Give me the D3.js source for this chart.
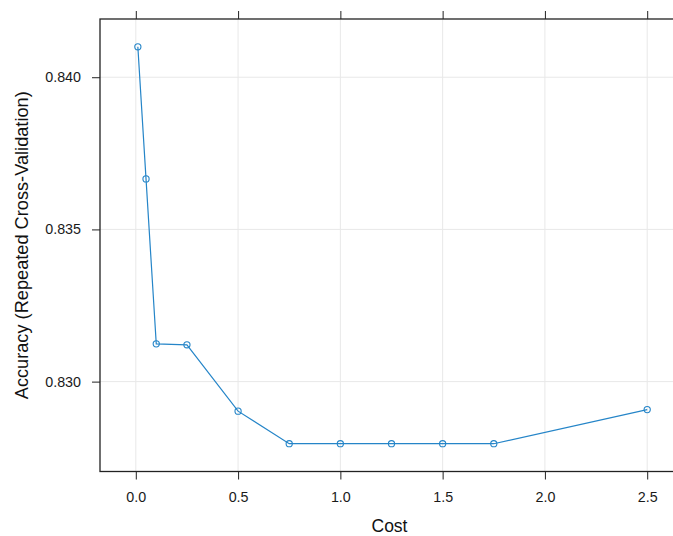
<!DOCTYPE html>
<html>
<head>
<meta charset="utf-8">
<script src="https://cdn.jsdelivr.net/npm/d3@7"></script>
<style>
  body { margin: 0; background: #fff; }
  text { font-family: "Liberation Sans", Arial, sans-serif; }
</style>
</head>
<body>
<div id="chart"></div>
<script>
// Accuracy theo Cost (caret / lattice style)

// --- Dữ liệu ---
const cost = [0.01, 0.05, 0.1, 0.25, 0.5, 0.75, 1, 1.25, 1.5, 1.75, 2.5];
const accuracy = [0.8410, 0.83666, 0.83124, 0.83121, 0.82903, 0.82796,
                  0.82796, 0.82796, 0.82796, 0.82796, 0.82908];
const xTicks = [0, 0.5, 1, 1.5, 2, 2.5];
const yTicks = [0.830, 0.835, 0.840];

const data = cost.map((c, i) => ({ cost: c, acc: accuracy[i] }));

// --- Kích thước ---
const W = 673, H = 536;
const panel = { left: 100, top: 19, right: 683, bottom: 471.5 };
const lineColor = "#2585c8";

const svg = d3.select("#chart")
  .append("svg")
    .attr("width", W)
    .attr("height", H);

// --- Scale (padding ~7% như lattice) ---
const x = d3.scaleLinear()
  .domain([-0.175, 2.675])
  .range([panel.left, panel.right]);

const yExt = d3.extent(accuracy);
const yPad = (yExt[1] - yExt[0]) * 0.07;
const y = d3.scaleLinear()
  .domain([yExt[0] - yPad, yExt[1] + yPad])
  .range([panel.bottom, panel.top]);

// --- Lưới ---
svg.append("g")
  .selectAll("line")
  .data(xTicks)
  .join("line")
    .attr("x1", d => x(d)).attr("x2", d => x(d))
    .attr("y1", panel.top).attr("y2", panel.bottom)
    .attr("stroke", "#e8e8e8").attr("stroke-width", 1);

svg.append("g")
  .selectAll("line")
  .data(yTicks)
  .join("line")
    .attr("x1", panel.left).attr("x2", panel.right)
    .attr("y1", d => y(d)).attr("y2", d => y(d))
    .attr("stroke", "#e8e8e8").attr("stroke-width", 1);

// --- Trục ---
const bottomAxis = svg.append("g")
  .attr("transform", `translate(0,${panel.bottom})`)
  .call(d3.axisBottom(x).tickValues(xTicks).tickFormat(d3.format(".1f"))
          .tickSizeInner(8).tickSizeOuter(0).tickPadding(12));

const topAxis = svg.append("g")
  .attr("transform", `translate(0,${panel.top})`)
  .call(d3.axisTop(x).tickValues(xTicks).tickFormat("")
          .tickSizeInner(8).tickSizeOuter(0));

const leftAxis = svg.append("g")
  .attr("transform", `translate(${panel.left},0)`)
  .call(d3.axisLeft(y).tickValues(yTicks).tickFormat(d3.format(".3f"))
          .tickSizeInner(8).tickSizeOuter(0).tickPadding(11));

[bottomAxis, topAxis, leftAxis].forEach(a => {
  a.select(".domain").remove();
  a.selectAll(".tick line").attr("stroke", "#222");
  a.selectAll(".tick text")
    .attr("fill", "#1a1a1a")
    .style("font-size", "14.3px")
    .style("font-family", "'Liberation Sans', Arial, sans-serif");
});

// --- Khung panel ---
svg.append("rect")
  .attr("x", panel.left)
  .attr("y", panel.top)
  .attr("width", panel.right - panel.left)
  .attr("height", panel.bottom - panel.top)
  .attr("fill", "none")
  .attr("stroke", "#222")
  .attr("stroke-width", 1.3);

// --- Đường ---
const line = d3.line()
  .x(d => x(d.cost))
  .y(d => y(d.acc));

svg.append("path")
  .datum(data)
  .attr("fill", "none")
  .attr("stroke", lineColor)
  .attr("stroke-width", 1.2)
  .attr("d", line);

svg.append("g")
  .selectAll("circle")
  .data(data)
  .join("circle")
    .attr("cx", d => x(d.cost))
    .attr("cy", d => y(d.acc))
    .attr("r", 3.1)
    .attr("fill", "none")
    .attr("stroke", lineColor)
    .attr("stroke-width", 1.1);

// --- Tiêu đề trục ---
svg.append("text")
  .attr("x", (panel.left + 683) / 2 - 2)
  .attr("y", 532)
  .attr("text-anchor", "middle")
  .style("font-size", "17.5px")
  .attr("fill", "#111")
  .text("Cost");

svg.append("text")
  .attr("transform", `translate(28,${(panel.top + panel.bottom) / 2}) rotate(-90)`)
  .attr("text-anchor", "middle")
  .style("font-size", "18.2px")
  .attr("fill", "#111")
  .text("Accuracy (Repeated Cross-Validation)");
</script>
</body>
</html>
